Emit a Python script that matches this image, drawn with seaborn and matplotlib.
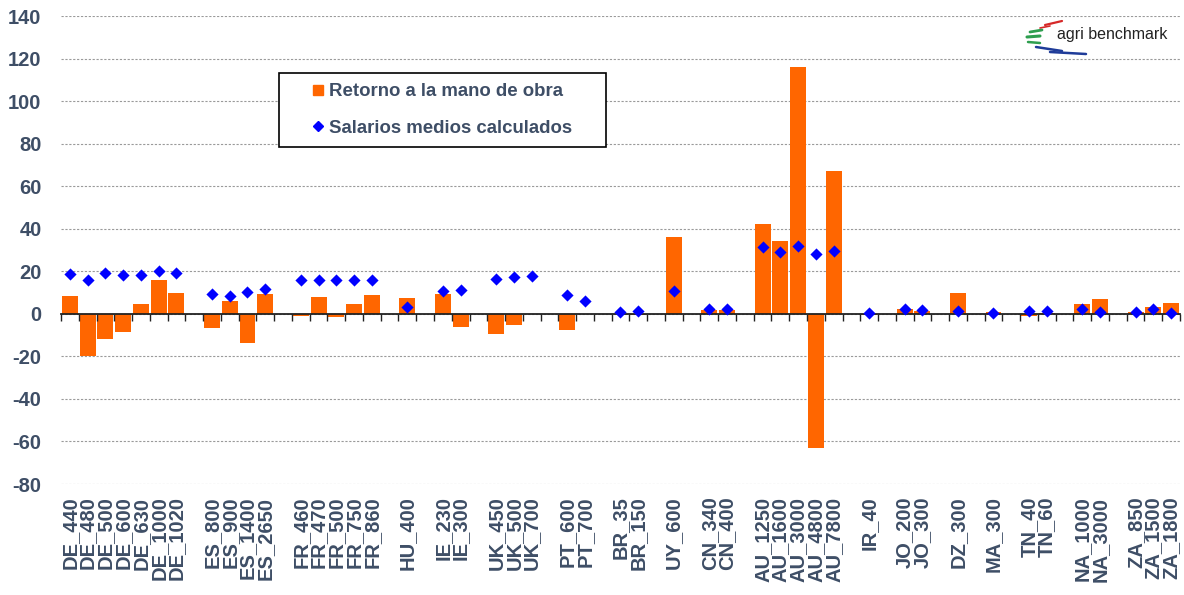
import numpy as np
import pandas as pd
import matplotlib
matplotlib.use("Agg")
import matplotlib.pyplot as plt
from matplotlib.lines import Line2D
import seaborn as sns

categories = ["DE_440", "DE_480", "DE_500", "DE_600", "DE_630", "DE_1000", "DE_1020",
              "ES_800", "ES_900", "ES_1400", "ES_2650",
              "FR_460", "FR_470", "FR_500", "FR_750", "FR_860",
              "HU_400",
              "IE_230", "IE_300",
              "UK_450", "UK_500", "UK_700",
              "PT_600", "PT_700",
              "BR_35", "BR_150",
              "UY_600",
              "CN_340", "CN_400",
              "AU_1250", "AU_1600", "AU_3000", "AU_4800", "AU_7800",
              "IR_40",
              "JO_200", "JO_300",
              "DZ_300",
              "MA_300",
              "TN_40", "TN_60",
              "NA_1000", "NA_3000",
              "ZA_850", "ZA_1500", "ZA_1800"]

retorno = [8.5, -19.7, -12.0, -8.5, 4.4, 16.0, 9.8,
           -6.7, 5.8, -13.6, 9.5,
           -1.0, 7.7, -1.3, 4.5, 8.8,
           7.4,
           9.5, -6.4,
           -9.7, -5.3, 0.0,
           -7.5, 0.0,
           0.0, -0.6,
           35.9,
           1.9, 1.9,
           42.3, 34.3, 116.1, -63.1, 67.2,
           -0.6,
           2.4, 1.4,
           9.7,
           0.8,
           -0.9, 0.3,
           4.7, 7.2,
           0.7, 3.0, 5.1]

salarios = [18.7, 15.8, 19.0, 18.2, 18.2, 20.2, 19.0,
            9.5, 8.5, 10.2, 11.9,
            16.0, 16.0, 16.0, 16.0, 16.0,
            3.3,
            10.8, 11.1,
            16.6, 17.1, 17.7,
            8.9, 6.1,
            0.9, 1.4,
            10.7,
            2.3, 2.5,
            31.2, 29.1, 32.0, 28.1, 29.6,
            0.3,
            2.4, 1.9,
            1.3,
            0.5,
            1.1, 1.1,
            2.4, 0.8,
            0.9, 2.2, 0.6]

label_ret = "Retorno a la mano de obra"
label_sal = "Salarios medios calculados"
yticks = [140, 120, 100, 80, 60, 40, 20, 0, -20, -40, -60, -80]

# ---- build category order with an empty slot between countries ----
order = []
prev = None
gap_id = 0
for c in categories:
    country = c.split("_")[0]
    if prev is not None and country != prev:
        order.append(f"__gap{gap_id}")
        gap_id += 1
    order.append(c)
    prev = country
tick_labels = ["" if o.startswith("__gap") else o for o in order]

df = pd.DataFrame({"cat": categories, "ret": retorno, "sal": salarios})

TXT = "#3E4E66"
sns.set_theme(style="white")
plt.rcParams["font.family"] = ["Liberation Sans", "DejaVu Sans"]

fig = plt.figure(figsize=(11.84, 5.95), dpi=100)
L, R, T, B = 61 / 1184, 1180 / 1184, 1 - 16 / 595, 1 - 484 / 595
ax = fig.add_axes([L, B, R - L, T - B])

sns.barplot(data=df, x="cat", y="ret", order=order, color="#FF6600",
            saturation=1, width=0.9, linewidth=0, ax=ax, zorder=2)
sns.stripplot(data=df, x="cat", y="sal", order=order, jitter=False,
              marker="D", color="#0000FF", size=6.2, linewidth=0, ax=ax, zorder=4)

ymin, ymax = min(yticks), max(yticks)
ax.set_ylim(ymin, ymax)
ax.set_xlim(-0.5, len(order) - 0.5)
ax.set_yticks(yticks)
ax.set_yticklabels([str(v) for v in yticks], fontsize=14.5, fontweight="bold", color=TXT)
ax.set_xticks(range(len(order)))
ax.set_xticklabels(tick_labels, rotation=90, fontsize=14.5, fontweight="bold",
                   color=TXT, va="top", ha="center")
ax.tick_params(axis="x", length=0, pad=9)
ax.tick_params(axis="y", length=0, pad=14)
ax.set_xlabel("")
ax.set_ylabel("")
for s in ax.spines.values():
    s.set_visible(False)
ax.yaxis.grid(True, linestyle=(0, (2, 1.5)), color="#9a9a9a", linewidth=0.8)
ax.set_axisbelow(True)

# zero axis with category-boundary ticks
sec = ax.secondary_xaxis((0 - ymin) / (ymax - ymin))
sec.set_zorder(3)
sec.set_xticks(np.arange(-0.5, len(order), 1.0))
sec.tick_params(axis="x", direction="out", length=5, width=1, color="#222222",
                labelbottom=False, labeltop=False)
for s in sec.spines.values():
    s.set_visible(False)
sec.spines["bottom"].set_visible(True)
sec.spines["bottom"].set_color("#222222")
sec.spines["bottom"].set_linewidth(1.3)

# legend
handles = [Line2D([], [], linestyle="none", marker="s", markersize=7.5,
                  markerfacecolor="#FF6600", markeredgecolor="#FF6600"),
           Line2D([], [], linestyle="none", marker="D", markersize=5.5,
                  markerfacecolor="#0000FF", markeredgecolor="#0000FF")]
lx0 = (279 - 61) / 1119
ly1 = (484 - 73) / 468
lw = (606 - 279) / 1119
lh = (144 - 73) / 468
leg = ax.legend(handles, [label_ret, label_sal], loc="upper left",
                bbox_to_anchor=(lx0, ly1 - lh, lw, lh), mode="expand",
                borderaxespad=0, borderpad=0.55, labelspacing=1.05,
                handlelength=3.1, handletextpad=-0.95, fancybox=False,
                framealpha=1, edgecolor="black",
                prop={"size": 13.4, "weight": "bold"})
leg.get_frame().set_linewidth(1.2)
leg.set_zorder(6)
for t in leg.get_texts():
    t.set_color(TXT)

# logo
fig.text(1057 / 1184, 1 - 35 / 595, "agri benchmark", fontsize=11.5, color="#222222",
         ha="left", va="center")
def px(x, y):
    return x / 1184, 1 - y / 595
for (x0, y0, x1, y1, c, w) in [(1045, 25, 1062, 21, "#D62828", 1.6),
                               (1040, 28, 1050, 26, "#D62828", 1.2),
                               (1030, 32, 1042, 30, "#2E9E4F", 2.0),
                               (1027, 37, 1040, 36, "#2E9E4F", 2.2),
                               (1028, 42, 1040, 43, "#2E9E4F", 1.8),
                               (1036, 47, 1062, 51, "#1F3C99", 1.8),
                               (1050, 52, 1086, 54, "#1F3C99", 1.8)]:
    a, b = px(x0, y0)
    c2, d = px(x1, y1)
    fig.add_artist(Line2D([a, c2], [b, d], color=c, linewidth=w,
                          transform=fig.transFigure, solid_capstyle="round"))

fig.savefig("out.png", dpi=100)
